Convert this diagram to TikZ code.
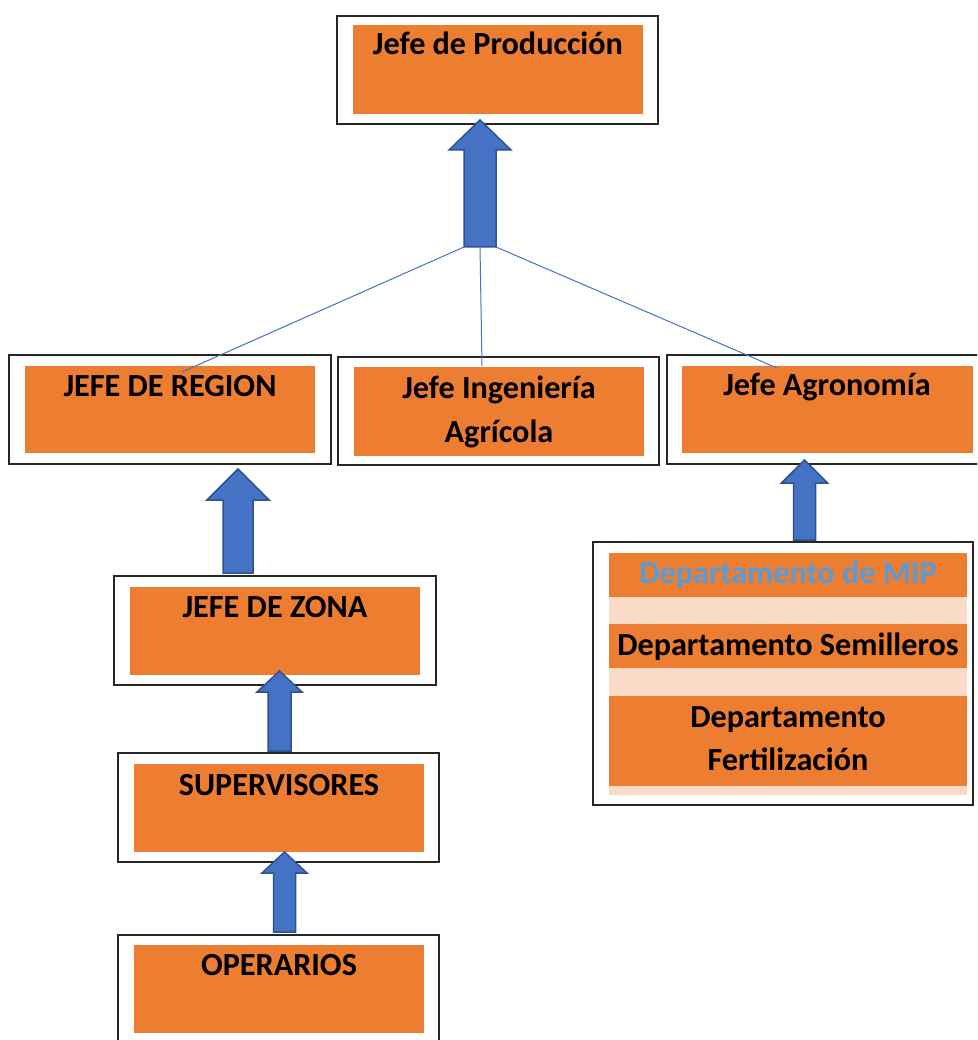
\documentclass[tikz,border=0pt]{standalone}
\usepackage{fontspec}
\setmainfont{Carlito}
\definecolor{orng}{HTML}{ED7D31}
\definecolor{peach}{HTML}{F9DBC8}
\definecolor{arrblue}{HTML}{4472C4}
\definecolor{arrdark}{HTML}{2F528F}
\definecolor{txtblue}{HTML}{5B9BD5}
\tikzset{
  obox/.style={draw=black!85, line width=1.3pt, fill=white, rectangle, inner sep=0pt, outer sep=0pt},
  ibox/.style={fill=orng, rectangle, inner sep=0pt, outer sep=0pt},
  lbox/.style={fill=peach, rectangle, inner sep=0pt, outer sep=0pt},
  lbl/.style={anchor=base, inner sep=0pt, font=\bfseries\fontsize{32.2}{43}\selectfont},
  blockarrow/.style={fill=arrblue, draw=arrdark, line width=1.5pt, line join=miter},
  link/.style={draw=arrblue, line width=1pt}
}
\newcommand\blockup[7]{% name, x, tip y, head y, head half, shaft half, bottom y
  \draw[blockarrow] (#2,#3) -- (#2+#5,#4) -- (#2+#6,#4) -- (#2+#6,#7) -- (#2-#6,#7) -- (#2-#6,#4) -- (#2-#5,#4) -- cycle;
  \coordinate (#1-tip) at (#2,#3);
  \coordinate (#1-bl) at (#2-#6,#7);
  \coordinate (#1-bc) at (#2,#7);
  \coordinate (#1-br) at (#2+#6,#7);
}
\begin{document}
\begin{tikzpicture}[x=1pt,y=-1pt]
\clip (0,0) rectangle (977,1040);
\fill[white] (0,0) rectangle (977,1040);

% Jefe de Produccion
\node[obox, minimum width=321pt, minimum height=108pt] (prodO) at (497.5,70) {};
\node[ibox, minimum width=290pt, minimum height=89pt] (prod) at (498,69.5) {};
\node[lbl] (prodT) at (498,55) {Jefe de Producción};

% Region
\node[obox, minimum width=322pt, minimum height=109pt] (regO) at (170,409.5) {};
\node[ibox, minimum width=290pt, minimum height=87pt] (reg) at (170,409.5) {};
\node[lbl] (regT) at (170,396) {JEFE DE REGION};

% Ingenieria
\node[obox, minimum width=321pt, minimum height=108pt] (ingO) at (498.5,411) {};
\node[ibox, minimum width=290pt, minimum height=89pt] (ing) at (499,411.5) {};
\node[lbl] (ingT1) at (499,398) {Jefe Ingeniería};
\node[lbl] (ingT2) at (499,442) {Agrícola};

% Agronomia
\node[obox, minimum width=323pt, minimum height=109pt] (agrO) at (828.5,409.5) {};
\node[ibox, minimum width=291pt, minimum height=87pt] (agr) at (827.5,409.5) {};
\node[lbl] (agrT) at (827,395) {Jefe Agronomía};

% Zona
\node[obox, minimum width=322pt, minimum height=109pt] (zonO) at (275,630.5) {};
\node[ibox, minimum width=290pt, minimum height=88pt] (zon) at (275,631) {};
\node[lbl] (zonT) at (275,617) {JEFE DE ZONA};

% Supervisores
\node[obox, minimum width=321pt, minimum height=109pt] (supO) at (278.5,807.5) {};
\node[ibox, minimum width=290pt, minimum height=88pt] (sup) at (279,808) {};
\node[lbl] (supT) at (279,795) {SUPERVISORES};

% Operarios
\node[obox, minimum width=321pt, minimum height=109pt] (opeO) at (278.5,989.5) {};
\node[ibox, minimum width=290pt, minimum height=88pt] (ope) at (279,989) {};
\node[lbl] (opeT) at (279,975) {OPERARIOS};

% Departamentos
\node[obox, minimum width=380pt, minimum height=263pt] (depO) at (783,673.5) {};
\node[ibox, minimum width=358pt, minimum height=44pt] (mip) at (788,575) {};
\node[lbox, minimum width=358pt, minimum height=27pt] (l1) at (788,610.5) {};
\node[ibox, minimum width=358pt, minimum height=44pt] (sem) at (788,646) {};
\node[lbox, minimum width=358pt, minimum height=28pt] (l2) at (788,682) {};
\node[ibox, minimum width=358pt, minimum height=90pt] (fer) at (788,741) {};
\node[lbox, minimum width=358pt, minimum height=9pt] (l3) at (788,790.5) {};
\node[lbl, text=txtblue] (mipT) at (788,583) {Departamento de MIP};
\node[lbl] (semT) at (788,655) {Departamento Semilleros};
\node[lbl] (ferT1) at (788,727) {Departamento};
\node[lbl] (ferT2) at (788,770) {Fertilización};

% Block arrows
\blockup{a1}{480}{120}{150}{31}{16}{247}
\blockup{a2}{238}{469}{500}{31}{15}{573}
\blockup{a3}{279.5}{671}{692}{22.5}{11.5}{751}
\blockup{a4}{284.5}{852}{873}{22.5}{11}{932}
\blockup{a5}{804.5}{460}{483}{23}{11}{540}

% connector lines
\coordinate (regEnd) at (182,372);
\coordinate (ingEnd) at (482,366);
\coordinate (agrEnd) at (777,368);
\draw[link] (a1-bl) -- (regEnd);
\draw[link] (a1-bc) -- (ingEnd);
\draw[link] (a1-br) -- (agrEnd);
\end{tikzpicture}
\end{document}
